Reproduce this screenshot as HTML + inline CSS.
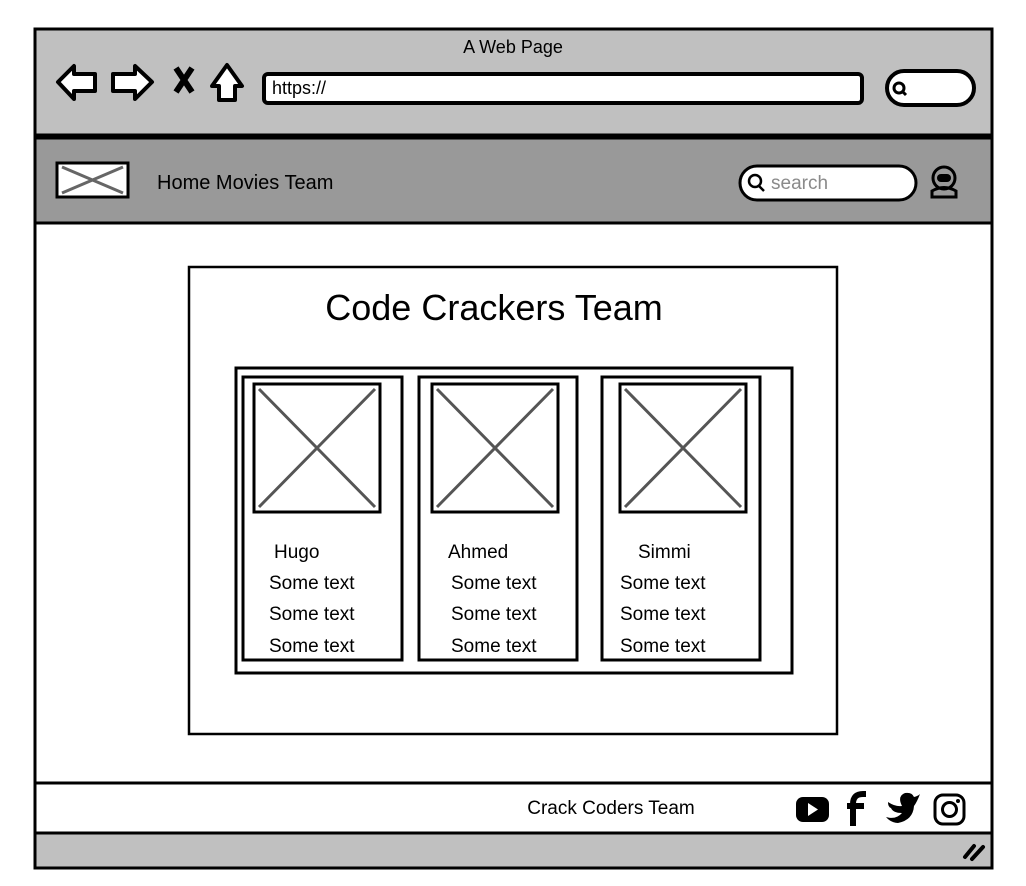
<!DOCTYPE html>
<html><head><style>
body{margin:0;background:#fff;width:1026px;height:886px;overflow:hidden}
svg{display:block}
text{font-family:"Liberation Sans",sans-serif;fill:#000}
</style></head><body>
<svg width="1026" height="886" viewBox="0 0 1026 886">
<rect x="35" y="29" width="957" height="839" fill="#fff" stroke="#000" stroke-width="3"/>
<rect x="35" y="29" width="957" height="106" fill="#c0c0c0" stroke="#000" stroke-width="3"/>
<rect x="35" y="138" width="957" height="85" fill="#999" stroke="#000" stroke-width="3"/>
<rect x="35" y="783" width="957" height="50" fill="#fff" stroke="#000" stroke-width="3"/>
<rect x="35" y="833" width="957" height="35" fill="#c0c0c0" stroke="#000" stroke-width="3"/>
<text x="513" y="53" font-size="18" text-anchor="middle">A Web Page</text>
<path d="M58 82 L74 66 L74 74 L95 74 L95 91 L74 91 L74 99 Z" fill="#fff" stroke="#000" stroke-width="4" stroke-linejoin="round"/>
<path d="M152 82 L135 66 L135 74 L113 74 L113 91 L135 91 L135 99 Z" fill="#fff" stroke="#000" stroke-width="4" stroke-linejoin="round"/>
<path d="M176 68 L192 92 M192 68 L176 92" stroke="#000" stroke-width="6"/>
<path d="M212 86 L227 65 L242 86 L235 86 L235 100 L219 100 L219 86 Z" fill="#fff" stroke="#000" stroke-width="4" stroke-linejoin="round"/>
<rect x="264" y="74" width="598" height="29" rx="4" fill="#fff" stroke="#000" stroke-width="4"/>
<text x="272" y="94" font-size="18">https://</text>
<rect x="887" y="71" width="87" height="34" rx="17" fill="#fff" stroke="#000" stroke-width="4"/>
<circle cx="899" cy="88" r="5" fill="none" stroke="#000" stroke-width="3"/><path d="M902 91 L906 95" stroke="#000" stroke-width="3"/>
<rect x="57" y="163" width="71" height="34" fill="#fff" stroke="#000" stroke-width="3"/>
<path d="M62 167 L123 193 M62 193 L123 167" stroke="#666" stroke-width="3"/>
<text x="157" y="189" font-size="20">Home  Movies Team</text>
<rect x="740" y="166" width="176" height="34" rx="17" fill="#fff" stroke="#000" stroke-width="3"/>
<circle cx="755" cy="181" r="6" fill="none" stroke="#000" stroke-width="2.5"/><path d="M759 186 L764 191" stroke="#000" stroke-width="2.5"/>
<text x="771" y="189" font-size="19" style="fill:#8a8a8a">search</text>
<circle cx="944" cy="178" r="11" fill="none" stroke="#000" stroke-width="3"/>
<rect x="937" y="174" width="14" height="8" rx="4" fill="#000"/>
<path d="M932 197 L932 191 Q944 184 956 191 L956 197 Z" fill="none" stroke="#000" stroke-width="3"/>
<rect x="189" y="267" width="648" height="467" fill="#fff" stroke="#000" stroke-width="2.5"/>
<text x="494" y="320" font-size="36" text-anchor="middle">Code Crackers Team</text>
<rect x="236" y="368" width="556" height="305" fill="#fff" stroke="#000" stroke-width="3"/>
<g stroke="#000" stroke-width="3" fill="#fff">
<rect x="243" y="377" width="159" height="283"/>
<rect x="419" y="377" width="158" height="283"/>
<rect x="602" y="377" width="158" height="283"/>
<rect x="254" y="384" width="126" height="128"/>
<rect x="432" y="384" width="126" height="128"/>
<rect x="620" y="384" width="126" height="128"/>
</g>
<g stroke="#555" stroke-width="3">
<path d="M259 389 L375 507 M375 389 L259 507"/>
<path d="M437 389 L553 507 M553 389 L437 507"/>
<path d="M625 389 L741 507 M741 389 L625 507"/>
</g>
<g font-size="19">
<text x="274" y="558">Hugo</text><text x="448" y="558">Ahmed</text><text x="638" y="558">Simmi</text>
<text x="269" y="589">Some text</text><text x="269" y="620">Some text</text><text x="269" y="652">Some text</text>
<text x="451" y="589">Some text</text><text x="451" y="620">Some text</text><text x="451" y="652">Some text</text>
<text x="620" y="589">Some text</text><text x="620" y="620">Some text</text><text x="620" y="652">Some text</text>
</g>
<text x="611" y="814" font-size="19" text-anchor="middle">Crack Coders Team</text>
<rect x="796" y="797" width="33" height="25" rx="7" fill="#000"/>
<path d="M808 803 L818 809.5 L808 816 Z" fill="#fff"/>
<path d="M853 826 L853 804 Q853 794 863 794 L866 794 M847 806 L864 806" stroke="#000" stroke-width="6" fill="none"/>
<path d="M886 817 Q896 820 902 813 Q893 813 891 808 Q888 807 888 802 Q895 807 902 806 Q897 796 905 793 Q912 792 914 797 Q918 796 920 794 Q917 802 914 806 Q913 820 898 823 Q891 823 886 817 Z" fill="#000"/>
<rect x="935" y="795" width="29" height="29" rx="8" fill="none" stroke="#000" stroke-width="3"/>
<circle cx="949.5" cy="809.5" r="7" fill="none" stroke="#000" stroke-width="3"/>
<circle cx="958" cy="801" r="2" fill="#000"/>
<path d="M965 857 L974 846 M972 859 L983 847" stroke="#000" stroke-width="4" stroke-linecap="round"/>
</svg>
</body></html>
